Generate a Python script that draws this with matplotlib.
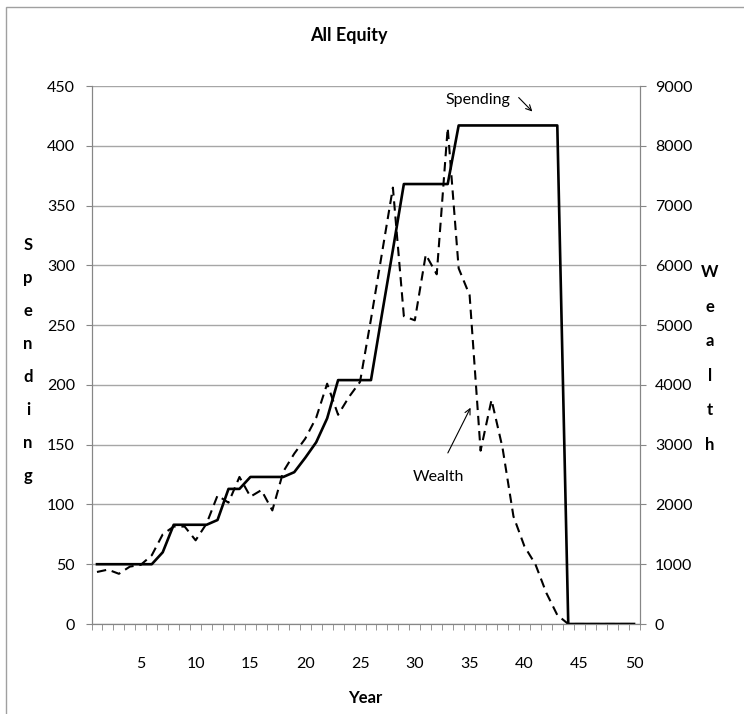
import numpy as np
import matplotlib.pyplot as plt
from matplotlib.patches import Rectangle

# values
years = list(range(1, 51))
spending = [50, 50, 50, 50, 50, 50, 60, 83, 83, 83,
            83, 87, 113, 113, 123, 123, 123, 123, 127, 139,
            152, 172, 204, 204, 204, 204, 259, 313, 368, 368,
            368, 368, 368, 417, 417, 417, 417, 417, 417, 417,
            417, 417, 417, 0, 0, 0, 0, 0, 0, 0]
wealth = [870, 910, 840, 960, 990, 1150, 1500, 1630, 1630, 1400,
          1680, 2150, 2030, 2460, 2130, 2240, 1900, 2550, 2850, 3100,
          3450, 4020, 3500, 3800, 4050, 5100, 6200, 7300, 5150, 5080,
          6180, 5850, 8300, 5950, 5500, 2900, 3750, 2950, 1800, 1300,
          1000, 520, 150, 0, 0, 0, 0, 0, 0, 0]
left_ticks = list(range(0, 451, 50))
right_ticks = list(range(0, 9001, 1000))
year_labels = list(range(5, 51, 5))

plt.rcParams['font.family'] = ['Lato', 'DejaVu Sans']
GRAY = '#868686'
W, H = 744, 714

fig = plt.figure(figsize=(W / 100, H / 100), dpi=100)
ax = fig.add_axes([91.5 / W, 1 - 624 / H, 548 / W, 538 / H])
ax2 = ax.twinx()

ax.plot(years, spending, color='black', lw=1.9, zorder=3)
ax2.plot(years, wealth, color='black', lw=1.5, dashes=(4.5, 2.8))

ax.set_xlim(0.5, 50.5)
ax.set_ylim(0, 450)
ax2.set_ylim(0, 9000)
ax.set_yticks(left_ticks)
ax2.set_yticks(right_ticks)
ax.set_xticks(year_labels)
ax.set_xticks(np.arange(0.5, 51, 1), minor=True)

ax.yaxis.grid(True, color='#a6a6a6', lw=1.0)
ax.set_axisbelow(True)

for a in (ax, ax2):
    a.spines['top'].set_visible(False)
    for s in ('left', 'right', 'bottom'):
        a.spines[s].set_color(GRAY)

ax.tick_params(axis='y', direction='out', length=4, color=GRAY, pad=8, labelsize=11.5)
ax2.tick_params(axis='y', direction='out', length=4, color=GRAY, pad=7, labelsize=11.5)
ax.tick_params(axis='x', which='major', length=0, pad=24, labelsize=11.5)
ax.tick_params(axis='x', which='minor', direction='out', length=4, color=GRAY)

# titles and stacked axis labels
fig.text(349 / W, 1 - 36 / H, 'All Equity', ha='center', va='center',
         fontweight='bold', fontsize=13)
fig.text(365 / W, 1 - 698 / H, 'Year', ha='center', va='center',
         fontweight='bold', fontsize=12)
for i, ch in enumerate('Spending'):
    fig.text(28 / W, 1 - (245 + i * 33) / H, ch, ha='center', va='center',
             fontweight='bold', fontsize=12)
for i, ch in enumerate('Wealth'):
    fig.text(710 / W, 1 - (272 + i * 34.6) / H, ch, ha='center', va='center',
             fontweight='bold', fontsize=12)

# callouts
ax.text(35.8, 438, 'Spending', ha='center', va='center', fontsize=11.5)
ax.annotate('', xy=(40.9, 427), xytext=(39.3, 442),
            arrowprops=dict(arrowstyle='->', lw=0.8, color='black'))
ax.text(32.2, 123, 'Wealth', ha='center', va='center', fontsize=11.5)
ax.annotate('', xy=(35.2, 183), xytext=(32.9, 141),
            arrowprops=dict(arrowstyle='->', lw=0.8, color='black'))

# chart area border
fig.add_artist(Rectangle((6 / W, -0.1), 1.2, 1 - 7 / H + 0.1, transform=fig.transFigure,
                         fill=False, edgecolor='#a0a0a0', lw=1))

fig.savefig('out.png', dpi=100)
